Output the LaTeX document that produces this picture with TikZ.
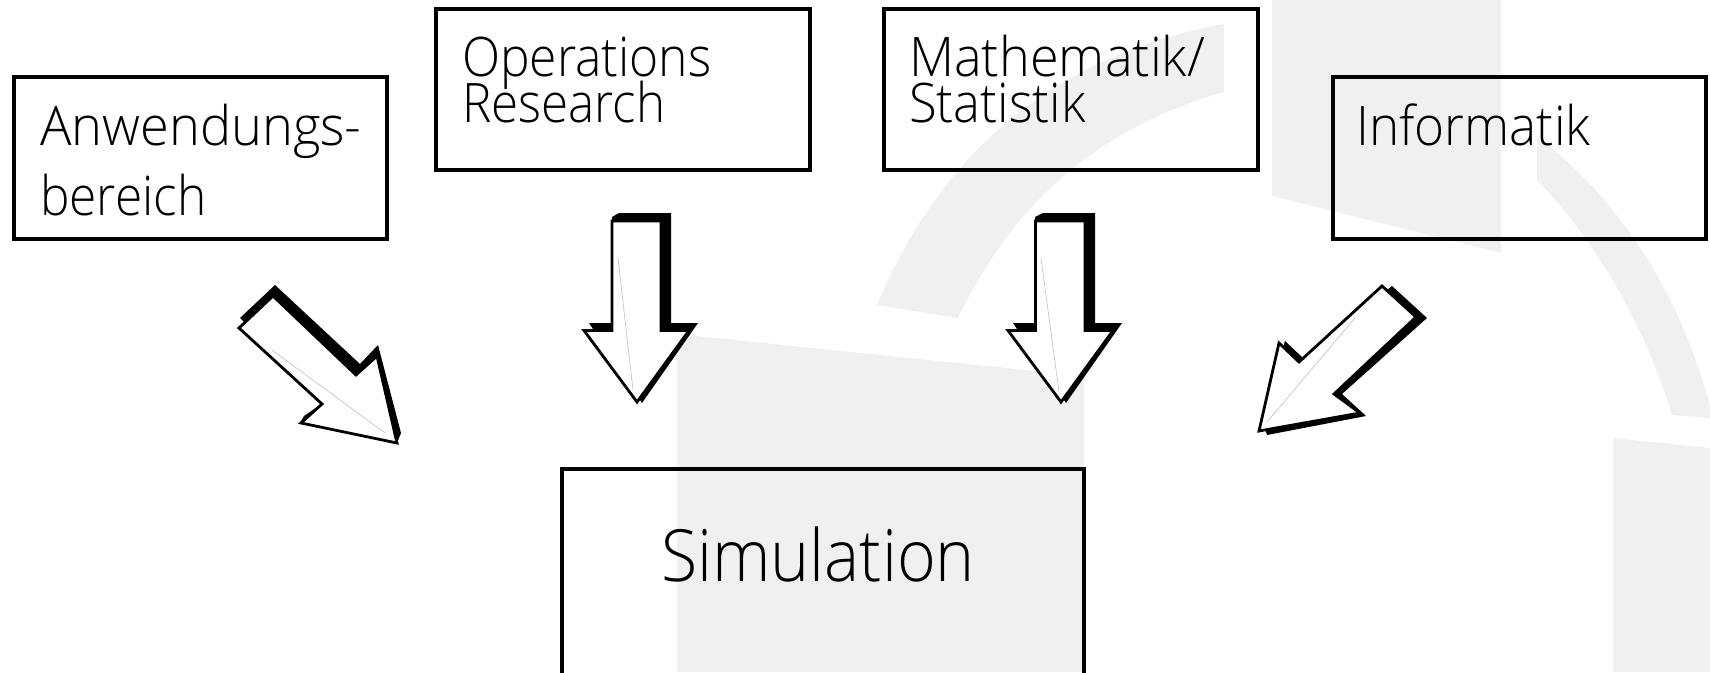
\documentclass[tikz,border=0pt]{standalone}
\usepackage{graphicx}
\usepackage{fontspec}
\setmainfont{Open Sans Light}
\definecolor{bggray}{HTML}{F0F0F0}
\definecolor{hair}{HTML}{C0C0C0}
\tikzset{
  x=1pt,y=-1pt,
  bgshape/.style={fill=bggray,draw=none},
  shadowshape/.style={fill=black,draw=none},
  arrowbody/.style={fill=white,draw=black,line width=2.8pt,line join=miter},
  hairline/.style={draw=hair,line width=0.6pt},
  boxnode/.style={draw=black,line width=3.2pt,fill=none,inner sep=0pt},
  smalltext/.style={anchor=base west,inner sep=0pt,font=\fontsize{54.5}{54.5}\selectfont},
  bigtext/.style={anchor=base west,inner sep=0pt,font=\fontsize{72}{72}\selectfont}
}
\newcommand{\squeezed}[2]{\scalebox{#1}[1]{#2}}
\begin{document}
\begin{tikzpicture}
\useasboundingbox (0,0) rectangle (1710,672);
% background
\fill[bgshape] (677,334) -- (1084,376) -- (1084,672) -- (677,672) -- cycle;
\fill[bgshape] (1272,0) -- (1501,0) -- (1501,253) -- (1272,196) -- cycle;
\fill[bgshape] (1613,438) -- (1710,448) -- (1710,672) -- (1613,672) -- cycle;
\fill[bgshape] (877,305) .. controls (950,130) and (1080,50) .. (1224,24) -- (1224,92) .. controls (1110,125) and (1020,190) .. (958,318) -- cycle;
\fill[bgshape] (1537,137) .. controls (1615,195) and (1680,290) .. (1710,407) -- (1710,418) -- (1672,415) .. controls (1645,325) and (1595,240) .. (1537,180) -- cycle;
% boxes
\node[boxnode,minimum width=373pt,minimum height=162pt] (anw) at (200.5,158) {};
\node[boxnode,minimum width=374pt,minimum height=161pt] (opr) at (623,89.5) {};
\node[boxnode,minimum width=374pt,minimum height=161pt] (mat) at (1071,89.5) {};
\node[boxnode,minimum width=373pt,minimum height=162pt] (inf) at (1519.5,158) {};
\draw[line width=3.2pt] (562,690) -- (562,469) -- (1084,469) -- (1084,690);
% labels
\node[smalltext] (t1) at (40,145) {\squeezed{0.961}{Anwendungs-}};
\node[smalltext] (t2) at (40,215) {\squeezed{0.91}{bereich}};
\node[smalltext] (t3) at (462,76) {\squeezed{0.913}{Operations}};
\node[smalltext] (t4) at (462,122) {\squeezed{0.905}{Research}};
\node[smalltext] (t5) at (909,76) {\squeezed{0.958}{Mathematik/}};
\node[smalltext] (t6) at (909,122) {\squeezed{0.93}{Statistik}};
\node[smalltext] (t7) at (1356,145) {\squeezed{0.939}{Informatik}};
\node[bigtext] (sim) at (661,581) {\squeezed{0.92}{Simulation}};
% arrow 1
\fill[shadowshape] (275,285) -- (360,364) -- (378,345) -- (401,433) -- (397,443) -- (300,423) -- (304,416) -- (326,401) -- (240,318) -- cycle;
\draw[arrowbody] (273,296) -- (356,375) -- (377,356) -- (397,443) -- (301,423) -- (322,404) -- (239,328) -- cycle;
\draw[hairline] (272,350) -- (385,433);
% arrow 2
\fill[shadowshape] (612,217) -- (619,213) -- (671,213) -- (671,323) -- (698,323) -- (642,403) -- (589,323) -- (612,323) -- cycle;
\draw[arrowbody] (612,221) -- (661,221) -- (661,330.5) -- (689,330.5) -- (637,402) -- (584,330.5) -- (612,330.5) -- cycle;
\draw[hairline] (618,258) -- (633,390);
% arrow 3
\fill[shadowshape] (1035,217) -- (1043,213) -- (1095,213) -- (1095,323) -- (1122,323) -- (1066,403) -- (1013,323) -- (1035,323) -- cycle;
\draw[arrowbody] (1035.5,221) -- (1085,221) -- (1085,330.5) -- (1113,330.5) -- (1061,402) -- (1008,330.5) -- (1035.5,330.5) -- cycle;
\draw[hairline] (1041,258) -- (1059,392);
% arrow 4
\fill[shadowshape] (1392,286) -- (1427,318) -- (1342,394) -- (1366,416) -- (1267,435) -- (1262,420) -- (1285,341) -- (1303,358) -- cycle;
\draw[arrowbody] (1382,286) -- (1416,317) -- (1334,394) -- (1360,413) -- (1259,431) -- (1279,343) -- (1299,362) -- cycle;
\draw[hairline] (1355,318) -- (1267,422);
\end{tikzpicture}
\end{document}
